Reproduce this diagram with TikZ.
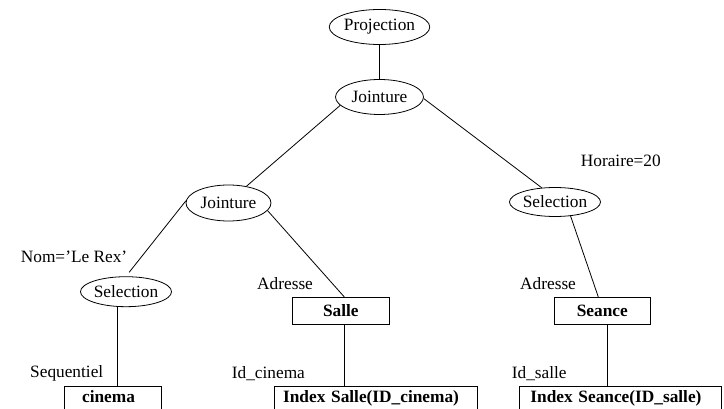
\documentclass[tikz,border=0pt]{standalone}
\usepackage{fontspec}
\setmainfont{Liberation Serif}
\usetikzlibrary{shapes.geometric}

\tikzset{
  txt/.style={font=\fontsize{17.3}{20}\selectfont},
  op/.style={txt, draw, ellipse, inner sep=0pt, line width=0.8pt},
  rel/.style={txt, draw, rectangle, inner sep=0pt, line width=0.8pt,
    font=\fontsize{17.3}{20}\selectfont\bfseries, text height=12pt, text depth=0pt},
  leaf/.style={txt, draw, rectangle, anchor=north west, inner ysep=4pt, line width=0.8pt,
    font=\fontsize{17.3}{20}\selectfont\bfseries, text height=12pt, text depth=30pt, align=left},
  lbl/.style={txt, anchor=base west, inner sep=0pt},
  edge/.style={line width=0.8pt}
}

\begin{document}
\begin{tikzpicture}[x=1pt, y=-1pt]
  \useasboundingbox (0,0) rectangle (724,409);
  \clip (0,0) rectangle (724,409);

  % operator nodes
  \node[op, minimum width=88pt, minimum height=35pt] (proj) at (379.5,27) {Projection};
  \node[op, minimum width=88pt, minimum height=35pt] (j1) at (379.5,97) {Jointure};
  \node[op, minimum width=85pt, minimum height=36pt] (j2) at (228.5,203) {Jointure};
  \node[op, minimum width=88pt, minimum height=30pt] (s1) at (126,291.7) {Selection};
  \node[op, minimum width=88pt, minimum height=29pt] (s2) at (555,202) {Selection};

  % relations
  \node[rel, minimum width=97pt, minimum height=26.7pt] (salle) at (340.8,310.7) {Salle};
  \node[rel, minimum width=96.7pt, minimum height=26.7pt] (seance) at (602.3,310.7) {Seance};

  % access paths (boxes run past the lower edge)
  \node[leaf, inner xsep=17.4pt, text width=61.9pt] (cin) at (64.3,385.7) {cinema};
  \node[leaf, inner xsep=8.7pt, text width=185.3pt] (isalle) at (274,385.7) {Index Salle(ID\_cinema)};
  \node[leaf, inner xsep=10.7pt, text width=180pt] (iseance) at (519.3,385.7) {Index Seance(ID\_salle)};

  % annotations
  \node[lbl] (hor) at (580.7,166.7) {Horaire=20};
  \node[lbl] (nom) at (20.7,263) {Nom='Le Rex'};
  \node[lbl] (adr1) at (257,290) {Adresse};
  \node[lbl] (adr2) at (520,290) {Adresse};
  \node[lbl] (seq) at (30,377.7) {Sequentiel};
  \node[lbl] (idc) at (231.7,378) {Id\_cinema};
  \node[lbl] (ids) at (511.7,378) {Id\_salle};

  % tree edges
  \draw[edge] (proj.south) -- (j1.north);
  \draw[edge] (j1.192) -- (j2.43);
  \draw[edge] (j1.358) -- (s2.133);
  \draw[edge, shorten >=5pt] (j2.177) -- (s1.north);
  \draw[edge] (j2.349) -- ([xshift=3.5pt]salle.north);
  \draw[edge] ([xshift=4pt]salle.south) -- ([xshift=4pt]salle.south |- isalle.north);
  \draw[edge] ([xshift=-8.3pt]s1.south) -- ([xshift=-8.3pt]s1.south |- cin.north);
  \draw[edge] (s2.318) -- ([xshift=-4pt]seance.north);
  \draw[edge] ([xshift=5pt]seance.south) -- ([xshift=5pt]seance.south |- iseance.north);
\end{tikzpicture}
\end{document}
